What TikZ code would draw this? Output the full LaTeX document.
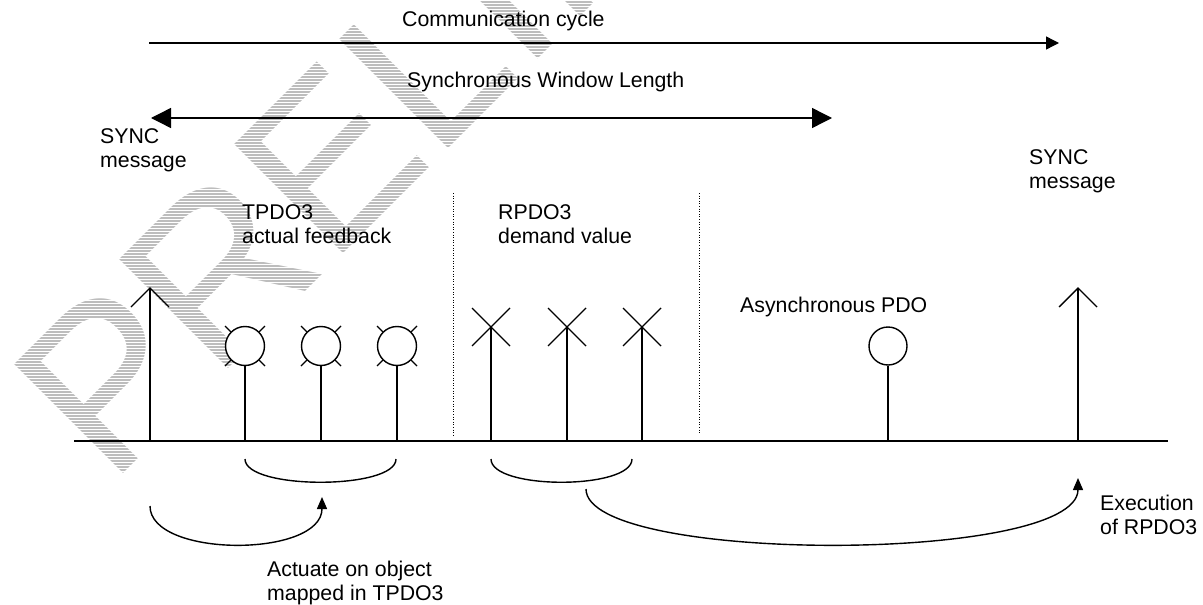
\documentclass[tikz,border=0pt]{standalone}
\usepackage{fontspec}
\setmainfont{Liberation Sans}
\usetikzlibrary{arrows.meta}
\definecolor{wmgray}{HTML}{BDBDBD}
\tikzset{
  bigtip/.tip={Triangle[length=20pt,width=20pt]},
  midtip/.tip={Triangle[length=13pt,width=13pt]},
  smalltip/.tip={Triangle[length=12pt,width=10pt]}}
\begin{document}
\begin{tikzpicture}[x=1pt,y=-1pt,
  lbl/.style={anchor=base west, inner sep=0pt, font=\fontsize{21.3}{24}\selectfont},
  wire/.style={line width=1.4pt},
  sep/.style={line width=0.9pt, dash pattern=on 1pt off 1.6pt},
  ring/.style={circle, draw, fill=white, minimum size=39pt, inner sep=0pt, line width=1.4pt}]
\useasboundingbox (0,0) rectangle (1203,605);

% hatched watermark in the background
\begin{scope}
  \clip (0,0) rectangle (1203,605);
  \node[rotate=45, anchor=base west, inner sep=0pt, text=wmgray,
        font=\fontsize{224}{224}\selectfont] (wm) at (110,487) {PRELIMINARY};
  \foreach \k in {0,...,170} \draw[white, line width=1pt] (0,3*\k+0.5) -- (700,3*\k+0.5);
\end{scope}

% time axis and event positions
\coordinate (ax0) at (74,441);
\coordinate (ax1) at (1168,441);
\draw[wire] (ax0) -- (ax1);

% communication cycle and synchronous window
\coordinate (cc0) at (149,43);
\coordinate (cc1) at (1059,43);
\draw[wire, -{midtip}] (cc0) -- (cc1);
\node[lbl] (cclbl) at (402,27) {Communication cycle};

\coordinate (sw0) at (151,118);
\coordinate (sw1) at (832,118);
\draw[wire, {bigtip}-{bigtip}] (sw0) -- (sw1);
\node[lbl] (swlbl) at (407,87) {Synchronous Window Length};

% SYNC messages
\foreach \n/\x in {syncA/150, syncB/1078} {
  \coordinate (\n-b) at (\x,441);
  \coordinate (\n-t) at (\x,288);
  \coordinate (\n-l) at (\x-19,307);
  \coordinate (\n-r) at (\x+19,307);
  \draw[wire] (\n-b) -- (\n-t);
  \draw[wire] (\n-l) -- (\n-t) -- (\n-r);
}
\node[lbl] (syncAl1) at (100,143) {SYNC};
\node[lbl] (syncAl2) at (100,167) {message};
\node[lbl] (syncBl1) at (1029,164) {SYNC};
\node[lbl] (syncBl2) at (1029,188) {message};

% window separators
\coordinate (sepA0) at (453,193);
\coordinate (sepA1) at (453,436);
\coordinate (sepB0) at (699,193);
\coordinate (sepB1) at (699,434);
\draw[sep] (sepA0) -- (sepA1);
\draw[sep] (sepB0) -- (sepB1);

% TPDO3 messages
\foreach \n/\x in {tp1/245, tp2/321, tp3/397} {
  \coordinate (\n-b) at (\x,441);
  \draw[wire] (\x-20,326) -- (\x+20,366);
  \draw[wire] (\x-20,366) -- (\x+20,326);
  \node[ring] (\n) at (\x,346) {};
  \draw[wire] (\n.south) -- (\n-b);
}
\node[lbl] (tpl1) at (242,219) {TPDO3};
\node[lbl] (tpl2) at (242,243) {actual feedback};

% RPDO3 messages
\foreach \n/\x in {rp1/491, rp2/567, rp3/642} {
  \coordinate (\n) at (\x,327);
  \coordinate (\n-b) at (\x,441);
  \draw[wire] (\n-b) -- (\n);
  \draw[wire] (\x-19,308) -- (\x+19,346);
  \draw[wire] (\x-19,346) -- (\x+19,308);
}
\node[lbl] (rpl1) at (498,219) {RPDO3};
\node[lbl] (rpl2) at (498,243) {demand value};

% asynchronous PDO
\node[ring, minimum size=38pt] (apdo) at (888,346) {};
\coordinate (apdo-b) at (888,441);
\draw[wire] (apdo.south) -- (apdo-b);
\node[lbl] (apdol) at (740,312) {Asynchronous PDO};

% groupings below the axis
\coordinate (gA0) at (245,459);
\coordinate (gA1) at (396,459);
\draw[wire] (gA0) .. controls +(0,31) and +(0,31) .. (gA1);
\coordinate (gB0) at (491,459);
\coordinate (gB1) at (632,459);
\draw[wire] (gB0) .. controls +(0,31) and +(0,31) .. (gB1);

% actuation and execution arrows
\coordinate (act0) at (150,506);
\coordinate (act1) at (322,497);
\draw[wire, -{smalltip}] (act0) .. controls (150,558) and (322,558) .. (act1);
\node[lbl] (actl1) at (267,576) {Actuate on object};
\node[lbl] (actl2) at (267,600) {mapped in TPDO3};

\coordinate (ex0) at (586,489);
\coordinate (ex1) at (1078,478);
\draw[wire, -{smalltip}] (ex0) .. controls (586,564) and (1078,564) .. (ex1);
\node[lbl] (exl1) at (1100,510) {Execution};
\node[lbl] (exl2) at (1100,534) {of RPDO3};
\end{tikzpicture}
\end{document}
